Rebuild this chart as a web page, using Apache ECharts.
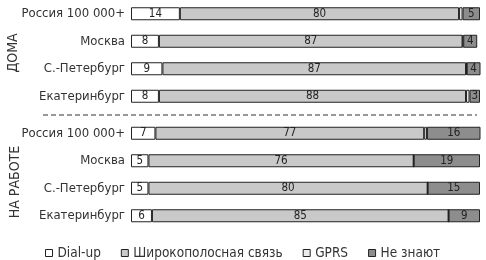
<!DOCTYPE html>
<html><head><meta charset="utf-8">
<script src="https://cdn.jsdelivr.net/npm/echarts@6/dist/echarts.min.js"></script>
<style>html,body{margin:0;padding:0;background:#fff}#c{width:486px;height:260px}</style>
</head><body><div id="c"></div>
<script>
const cities = ["Россия 100 000+", "Москва", "С.-Петербург", "Екатеринбург"];
const seriesNames = ["Dial-up", "Широкополосная связь", "GPRS", "Не знают"];
const homeDialup = [14, 8, 9, 8];
const homeBroad = [80, 87, 87, 88];
const homeGprs = [1, 0.2, 0.2, 1];
const homeDontKnow = [5, 4, 4, 3];
const workDialup = [7, 5, 5, 6];
const workBroad = [77, 76, 80, 85];
const workGprs = [0.8, 0, 0, 0];
const workDontKnow = [16, 19, 15, 9];
const groupLabels = ["ДОМА", "НА РАБОТЕ"];

const colors = ["#ffffff", "#c9c9c9", "#ebebeb", "#8d8d8d"];
const FONT = "'Liberation Sans Narrow', 'DejaVu Sans Condensed', sans-serif";
const chart = echarts.init(document.getElementById('c'));

function mk(name, idx, data, grid) {
  return {
    name: name, type: 'bar', stack: 'g' + grid, xAxisIndex: grid, yAxisIndex: grid,
    data: data, barWidth: 13,
    itemStyle: { color: colors[idx], borderColor: '#222', borderWidth: 1 },
    label: {
      show: idx !== 2, position: 'inside', color: '#222', fontSize: 11.5, fontFamily: FONT,
      formatter: p => p.value
    },
    emphasis: { disabled: true }
  };
}
const homeSets = [homeDialup, homeBroad, homeGprs, homeDontKnow];
const workSets = [workDialup, workBroad, workGprs, workDontKnow];
const series = [];
seriesNames.forEach((n, i) => series.push(mk(n, i, homeSets[i], 0)));
seriesNames.forEach((n, i) => series.push(mk(n, i, workSets[i], 1)));

const yAx = g => ({
  type: 'category', gridIndex: g, data: cities, inverse: true,
  axisLine: { show: false }, axisTick: { show: false },
  axisLabel: { color: '#333', fontSize: 13, fontFamily: FONT, margin: 6 }
});
const xAx = g => ({
  type: 'value', gridIndex: g, min: 0, max: 100, show: false
});

chart.setOption({
  animation: false,
  grid: [
    { left: 131, right: 6, top: 0, height: 110 },
    { left: 131, right: 6, top: 119.5, height: 110 }
  ],
  xAxis: [xAx(0), xAx(1)],
  yAxis: [yAx(0), yAx(1)],
  legend: {
    left: 40, top: 241, itemWidth: 7, itemHeight: 7, itemGap: 20,
    icon: 'rect',
    data: seriesNames.map((n, i) => ({ name: n, itemStyle: { color: colors[i], borderColor: '#222', borderWidth: 1 } })),
    textStyle: { color: '#333', fontSize: 13.5, fontFamily: FONT, padding: [0, 0, 0, 0] }
  },
  graphic: [
    { type: 'line', shape: { x1: 43, y1: 115, x2: 477, y2: 115 }, style: { stroke: '#333', lineWidth: 1, lineDash: [5, 3] } },
    { type: 'text', x: 13, y: 53, rotation: Math.PI / 2, style: { text: groupLabels[0], fill: '#333', font: '14px ' + FONT, align: 'center', verticalAlign: 'middle' } },
    { type: 'text', x: 15, y: 182, rotation: Math.PI / 2, style: { text: groupLabels[1], fill: '#333', font: '14px ' + FONT, align: 'center', verticalAlign: 'middle' } }
  ],
  series: series
});
</script></body></html>
